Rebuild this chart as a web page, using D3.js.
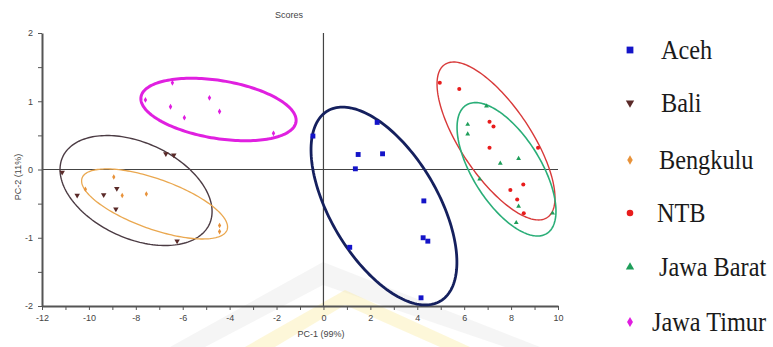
<!DOCTYPE html>
<html>
<head>
<meta charset="utf-8">
<script src="https://cdn.jsdelivr.net/npm/d3@7"></script>
<style>
  html, body { margin: 0; padding: 0; background: #fff; }
  svg { display: block; }
</style>
</head>
<body>
<svg id="chart" width="773" height="347"></svg>
<script>
// PCA score plot: PC-1 vs PC-2 per region, with confidence ellipses.

const groups = ["Aceh", "Bali", "Bengkulu", "NTB", "Jawa Barat", "Jawa Timur"];

const aceh = [
  [-0.45, 0.49], [2.29, 0.69], [1.48, 0.22], [2.52, 0.23], [1.36, 0.01],
  [4.28, -0.46], [4.25, -1.00], [4.45, -1.05], [1.12, -1.14], [4.16, -1.88]
];
const bali = [
  [-11.14, -0.04], [-10.50, -0.38], [-9.37, -0.37], [-8.81, -0.28], [-8.85, -0.58],
  [-6.72, 0.23], [-6.38, 0.21], [-6.24, -1.05]
];
const bengkulu = [
  [-10.15, -0.29], [-8.94, -0.11], [-8.58, -0.38], [-7.55, -0.36],
  [-4.43, -0.82], [-4.43, -0.91]
];
const ntb = [
  [4.96, 1.27], [5.79, 1.18], [7.08, 0.70], [7.25, 0.63], [7.08, 0.32],
  [9.15, 0.32], [7.97, -0.30], [8.52, -0.22], [8.26, -0.44], [8.54, -0.64]
];
const jawaBarat = [
  [6.95, 0.93], [6.15, 0.66], [6.15, 0.52], [7.54, 0.09], [8.32, 0.16],
  [6.66, -0.14], [8.32, -0.54], [9.77, -0.64], [8.22, -0.78]
];
const jawaTimur = [
  [-7.59, 1.02], [-6.44, 1.27], [-6.52, 0.92], [-5.93, 0.76], [-4.86, 1.05],
  [-4.43, 0.85], [-2.13, 0.53]
];

// Confidence ellipses: centre and two conjugate half-axis vectors (PC units).
const ellipseCentres = [[2.58, -0.535], [-7.99, -0.308], [-7.20, -0.505], [7.357, 0.418], [7.805, 0.003], [-4.475, 0.879]];
const ellipseAxisU   = [[2.407, -1.393], [3.128, -0.492], [3.091, -0.380], [2.185, -1.121], [1.717, -0.941], [3.304, -0.184]];
const ellipseAxisV   = [[-1.969, -0.402], [-0.850, -0.638], [-0.359, -0.345], [-1.244, -0.286], [-1.224, -0.264], [-0.198, -0.419]];

const xTicks = [-12, -10, -8, -6, -4, -2, 0, 2, 4, 6, 8, 10];
const yTicks = [-2, -1, 0, 1, 2];

const seriesPoints = [aceh, bali, bengkulu, ntb, jawaBarat, jawaTimur];

const pointColors   = ["#1414c8", "#5a2a28", "#e8923a", "#e81c1c", "#1e9e5a", "#e01ce0"];
const ellipseColors = ["#15205e", "#4c3c44", "#eaa850", "#d83a3a", "#2aae78", "#e020e0"];
const ellipseWidths = [2.8, 1.4, 1.3, 1.4, 1.6, 3];
const shapes = [d3.symbolSquare, d3.symbolTriangle, d3.symbolDiamond, d3.symbolCircle, d3.symbolTriangle, d3.symbolDiamond];
const rotations = [0, 180, 0, 0, 0, 0];
const plotSizes = [24, 13, 9, 13, 10, 10];
const legendSizes = [46, 30, 26, 34, 30, 30];

const svg = d3.select("#chart");

const x = d3.scaleLinear().domain([-12, 10]).range([42, 558]);
const y = d3.scaleLinear().domain([-2, 2]).range([306, 33]);

// faint background emblem
const wm = svg.append("g");
wm.append("path")
  .attr("d", "M170,347 L323,262 L540,347 L505,347 L323,285 L205,347 Z")
  .attr("fill", "#e6e6e6").attr("opacity", 0.4);
wm.append("path")
  .attr("d", "M245,347 L345,290 L470,347 L440,347 L345,305 L275,347 Z")
  .attr("fill", "#fbeaa0").attr("opacity", 0.4);

const axisColor = "#555";

// zero reference lines
svg.append("line")
  .attr("x1", x(-12)).attr("x2", x(10)).attr("y1", y(0)).attr("y2", y(0))
  .attr("stroke", "#444").attr("stroke-width", 1.2);
svg.append("line")
  .attr("x1", x(0)).attr("x2", x(0)).attr("y1", y(2)).attr("y2", y(-2))
  .attr("stroke", "#444").attr("stroke-width", 1.2);

// axes with minor ticks
const xAxis = d3.axisBottom(x).tickValues(d3.range(-12, 11, 1)).tickSize(4)
  .tickFormat(d => xTicks.includes(d) ? d : "").tickSizeOuter(0).tickPadding(5);
const gx = svg.append("g").attr("transform", `translate(0,${y(-2)})`).call(xAxis);
const yAxis = d3.axisLeft(y).tickValues(d3.range(-2, 2.01, 0.5)).tickSize(4)
  .tickFormat(d => yTicks.includes(d) ? d : "").tickSizeOuter(0).tickPadding(5);
const gy = svg.append("g").attr("transform", `translate(${x(-12)},0)`).call(yAxis);

[gx, gy].forEach(g => {
  g.select(".domain").attr("stroke", axisColor).attr("stroke-width", 2);
  g.selectAll(".tick line").attr("stroke", axisColor).attr("stroke-width", 1);
  g.selectAll("text").attr("fill", "#444").attr("font-family", "Liberation Sans, Arial, sans-serif").attr("font-size", 9);
});

// titles
svg.append("text").attr("x", 289).attr("y", 18).attr("text-anchor", "middle")
  .attr("font-family", "Liberation Sans, Arial, sans-serif").attr("font-size", 9).attr("fill", "#444")
  .text("Scores");
svg.append("text").attr("x", 321).attr("y", 337).attr("text-anchor", "middle")
  .attr("font-family", "Liberation Sans, Arial, sans-serif").attr("font-size", 9).attr("fill", "#444")
  .text("PC-1 (99%)");
svg.append("text").attr("transform", "translate(21,177) rotate(-90)").attr("text-anchor", "middle")
  .attr("font-family", "Liberation Sans, Arial, sans-serif").attr("font-size", 9).attr("fill", "#444")
  .text("PC-2 (11%)");

// ellipses
const ellipseLine = d3.line().x(d => x(d[0])).y(d => y(d[1])).curve(d3.curveLinearClosed);
groups.forEach((g, i) => {
  const c = ellipseCentres[i], u = ellipseAxisU[i], v = ellipseAxisV[i];
  const pts = d3.range(0, 2 * Math.PI, Math.PI / 90).map(t => [
    c[0] + u[0] * Math.cos(t) + v[0] * Math.sin(t),
    c[1] + u[1] * Math.cos(t) + v[1] * Math.sin(t)
  ]);
  svg.append("path").datum(pts).attr("d", ellipseLine)
    .attr("fill", "none").attr("stroke", ellipseColors[i]).attr("stroke-width", ellipseWidths[i]);
});

// score points
groups.forEach((g, i) => {
  svg.append("g").selectAll("path").data(seriesPoints[i]).join("path")
    .attr("d", d3.symbol(shapes[i], plotSizes[i]))
    .attr("transform", d => `translate(${x(d[0])},${y(d[1])}) rotate(${rotations[i]})`)
    .attr("fill", pointColors[i]);
});

// legend
const legendY = [50, 103, 160, 213, 267, 322];
const legendTextX = [661, 661, 659, 657, 659, 652];
const legend = svg.append("g");
groups.forEach((g, i) => {
  legend.append("path")
    .attr("d", d3.symbol(shapes[i], legendSizes[i]))
    .attr("transform", `translate(630,${legendY[i]}) rotate(${rotations[i]})`)
    .attr("fill", pointColors[i]);
  legend.append("text")
    .attr("transform", `translate(${legendTextX[i]},${legendY[i] + 9}) scale(0.9,1)`)
    .attr("font-family", "Liberation Serif, Times New Roman, serif")
    .attr("font-size", 27).attr("fill", "#1a1a1a")
    .text(g);
});
</script>
</body>
</html>
